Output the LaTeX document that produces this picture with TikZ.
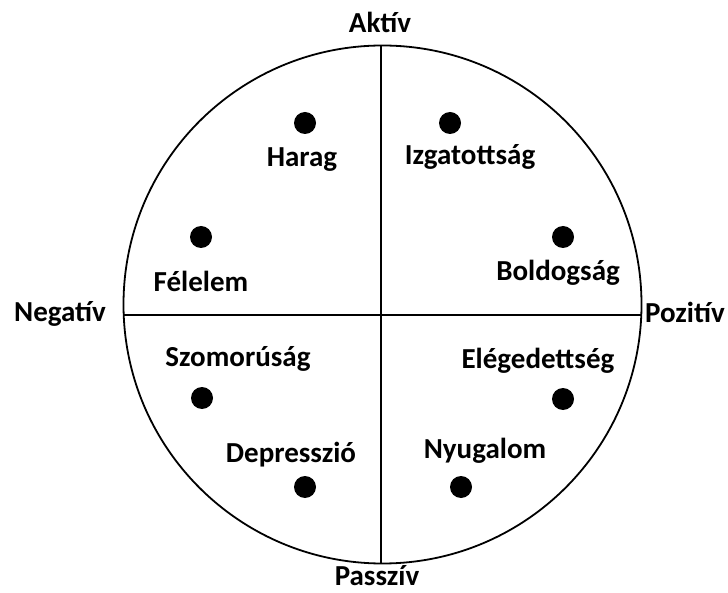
\documentclass[tikz,border=0pt]{standalone}
\usepackage{fontspec}
\setmainfont{Carlito}
\usepackage{tikz}
\usetikzlibrary{positioning}

\begin{document}
\begin{tikzpicture}[x=1pt,y=-1pt,
  lbl/.style={font=\fontsize{29}{31}\selectfont\bfseries,inner sep=0pt},
  dot/.style={circle,fill=black,inner sep=0pt,minimum size=22pt}]
\useasboundingbox (0,0) rectangle (728,593);
\draw[line width=1.8pt] (382.5,304.5) circle[radius=259];
\draw[line width=1.6pt] (381,45.5) -- (381,563.5);
\draw[line width=1.6pt] (124,315) -- (641,315);
% axis labels
\node[lbl] (akt) at (380,22) {Aktív};
\node[lbl] (neg) at (60,314) {Negatív};
\node[lbl] (poz) at (685,312) {Pozitív};
\node[lbl] (pas) at (377,576) {Passzív};
% emotions
\node[dot] (d1) at (305,123) {};
\node[lbl] (harag) at (302,160) {Harag};
\node[dot] (d2) at (201,237) {};
\node[lbl] (felelem) at (201,281) {Félelem};
\node[dot] (d3) at (450,123) {};
\node[lbl] (izgat) at (470,157) {Izgatottság};
\node[dot] (d4) at (563,237) {};
\node[lbl] (boldog) at (558,273) {Boldogság};
\node[lbl] (szomor) at (238,359) {Szomorúság};
\node[dot] (d5) at (202,398) {};
\node[lbl] (depr) at (291,455) {Depresszió};
\node[dot] (d6) at (305,487) {};
\node[lbl] (eleged) at (538,361) {Elégedettség};
\node[dot] (d7) at (563,399) {};
\node[lbl] (nyug) at (485,451) {Nyugalom};
\node[dot] (d8) at (461,487) {};
\end{tikzpicture}
\end{document}
